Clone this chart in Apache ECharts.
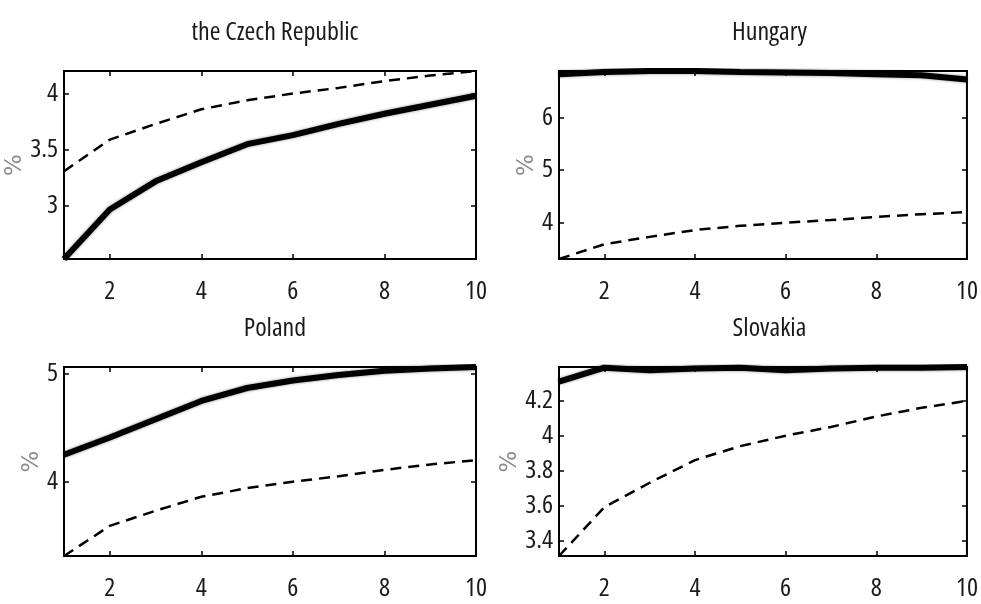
<!DOCTYPE html>
<html>
<head>
<meta charset="utf-8">
<script src="https://cdn.jsdelivr.net/npm/echarts@6/dist/echarts.min.js"></script>
<style>
  html, body { margin: 0; padding: 0; background: #fff; }
  #chart { width: 981px; height: 604px; }
</style>
</head>
<body>
<div id="chart"></div>
<script>
// Horizon (years) shared by all four panels
const horizon = [1, 2, 3, 4, 5, 6, 7, 8, 9, 10];

// Dashed reference curve (%), same in every panel
const benchmark = [3.31, 3.59, 3.73, 3.86, 3.94, 4.00, 4.05, 4.11, 4.16, 4.20];

// Solid country curves (%)
const czech    = [2.53, 2.97, 3.22, 3.39, 3.55, 3.63, 3.73, 3.82, 3.90, 3.98];
const hungary  = [6.82, 6.86, 6.88, 6.88, 6.86, 6.85, 6.84, 6.82, 6.80, 6.72];
const poland   = [4.25, 4.41, 4.58, 4.75, 4.87, 4.94, 4.99, 5.03, 5.05, 5.065];
const slovakia = [4.31, 4.39, 4.375, 4.385, 4.39, 4.375, 4.385, 4.39, 4.39, 4.394];

// Panel titles
const titles = ['the Czech Republic', 'Hungary', 'Poland', 'Slovakia'];

// Tick labels
const xTicks  = [2, 4, 6, 8, 10];
const czTicks = [3, 3.5, 4];
const huTicks = [4, 5, 6];
const plTicks = [4, 5];
const skTicks = [3.4, 3.6, 3.8, 4, 4.2];

// Condensed face of Open Sans (variable width axis)
const FONT = '"Open Sans", "Roboto Condensed", sans-serif';
const STRETCH = 'condensed';
const FSIZE = 26;

const panels = [
  { title: titles[0], solid: czech,    yTicks: czTicks, grid: { left: 64,  top: 71,  width: 412, height: 188 }, nameGap: 33 },
  { title: titles[1], solid: hungary,  yTicks: huTicks, grid: { left: 559, top: 71,  width: 411, height: 188 }, nameGap: 20 },
  { title: titles[2], solid: poland,   yTicks: plTicks, grid: { left: 64,  top: 367, width: 412, height: 189 }, nameGap: 19 },
  { title: titles[3], solid: slovakia, yTicks: skTicks, grid: { left: 559, top: 367, width: 411, height: 189 }, nameGap: 35 }
];

const pairs = (ys) => horizon.map((x, i) => [x, ys[i]]);

const grid = [], xAxis = [], yAxis = [], series = [], title = [];

const tickStyle = { show: true, inside: true, length: 5, lineStyle: { color: '#000', width: 1.5 } };
const textBase = { fontFamily: FONT, fontWeight: STRETCH, fontSize: FSIZE };

panels.forEach((p, i) => {
  grid.push(Object.assign({ show: true, borderColor: '#000', borderWidth: 2, backgroundColor: '#fff' }, p.grid));

  const yMin = Math.min(...p.solid, ...benchmark);
  const yMax = Math.max(...p.solid, ...benchmark);

  // bottom axis with labels, top axis with mirrored ticks only
  xAxis.push({
    type: 'value', gridIndex: i, position: 'bottom', min: 1, max: 10,
    axisLine: { show: false },
    axisTick: Object.assign({ customValues: xTicks }, tickStyle),
    axisLabel: Object.assign({ customValues: xTicks, margin: 20, color: '#1a1a1a' }, textBase),
    splitLine: { show: false }
  });
  xAxis.push({
    type: 'value', gridIndex: i, position: 'top', min: 1, max: 10,
    axisLine: { show: false },
    axisTick: Object.assign({ customValues: xTicks }, tickStyle),
    axisLabel: { show: false },
    splitLine: { show: false }
  });

  // left axis with labels and "%", right axis with mirrored ticks only
  yAxis.push({
    type: 'value', gridIndex: i, position: 'left', min: yMin, max: yMax,
    name: '%', nameLocation: 'middle', nameRotate: 90, nameGap: p.nameGap,
    nameTextStyle: { color: '#8a8a8a', fontFamily: '"DejaVu Sans", sans-serif', fontSize: 23 },
    axisLine: { show: false },
    axisTick: Object.assign({ customValues: p.yTicks }, tickStyle),
    axisLabel: Object.assign({ customValues: p.yTicks, margin: 6, color: '#1a1a1a' }, textBase),
    splitLine: { show: false }
  });
  yAxis.push({
    type: 'value', gridIndex: i, position: 'right', min: yMin, max: yMax,
    axisLine: { show: false },
    axisTick: Object.assign({ customValues: p.yTicks }, tickStyle),
    axisLabel: { show: false },
    splitLine: { show: false }
  });

  title.push({
    text: p.title,
    left: p.grid.left + p.grid.width / 2,
    top: p.grid.top - 56,
    textAlign: 'center',
    textStyle: Object.assign({ color: '#1a1a1a' }, textBase)
  });

  series.push({
    type: 'line', xAxisIndex: 2 * i, yAxisIndex: 2 * i,
    data: pairs(benchmark), symbol: 'none', clip: true, silent: true,
    lineStyle: { color: '#000', width: 2.5, type: [11, 7] }
  });
  series.push({
    type: 'line', xAxisIndex: 2 * i, yAxisIndex: 2 * i,
    data: pairs(p.solid), symbol: 'none', clip: true, silent: true,
    lineStyle: { color: '#000', width: 6, shadowColor: 'rgba(0,0,0,0.45)', shadowBlur: 3 }
  });
});

const chart = echarts.init(document.getElementById('chart'), null, { renderer: 'canvas' });
chart.setOption({
  animation: false,
  backgroundColor: '#fff',
  title, grid, xAxis, yAxis, series
});
</script>
</body>
</html>
